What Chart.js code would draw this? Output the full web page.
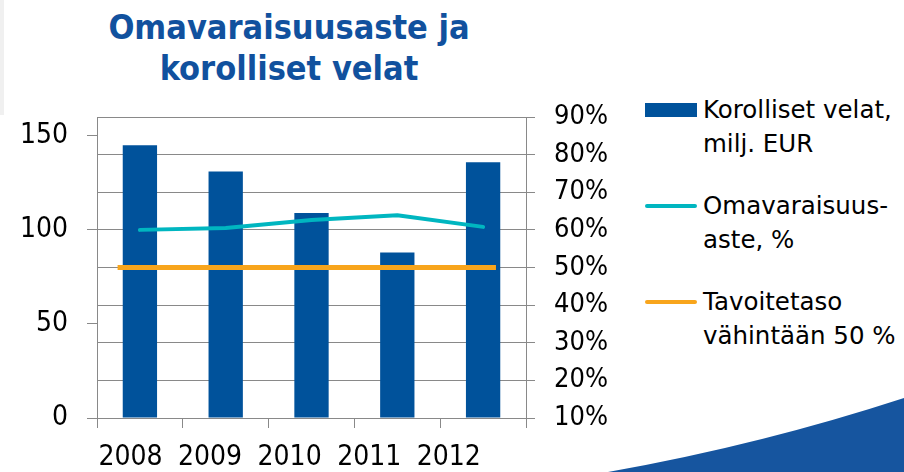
<!DOCTYPE html>
<html lang="fi">
<head>
<meta charset="utf-8">
<title>Omavaraisuusaste ja korolliset velat</title>
<script src="https://cdn.jsdelivr.net/npm/chart.js@4.4.1/dist/chart.umd.min.js"></script>
<style>
  html, body { margin: 0; padding: 0; background: #fff; }
  body { width: 904px; height: 472px; position: relative; overflow: hidden;
         font-family: 'DejaVu Sans Condensed', 'DejaVu Sans', sans-serif; }
  #sideStrip { position: absolute; left: 0; top: 0; width: 4px; height: 115px; background: #f0f0f0; }
  #chartTitle { position: absolute; left: 0; top: 7px; width: 578px; text-align: center;
                font-weight: bold; font-size: 34px; line-height: 41px; color: #11519e; }
  #chartWrap { position: absolute; left: 0; top: 0; }
  .legend-item { position: absolute; left: 645px; }
  .legend-swatch { position: absolute; left: 0; width: 52px; }
  .legend-text { position: absolute; left: 58px; font-family: 'DejaVu Sans', sans-serif;
                 font-size: 24.5px; line-height: 34px; color: #000; white-space: nowrap; }
  #swoosh { position: absolute; left: 0; top: 0; }
</style>
</head>
<body>
<div id="sideStrip"></div>
<svg id="swoosh" width="904" height="472"><path d="M608,472 Q760,445 904,398 L904,472 Z" fill="#16559f"/></svg>
<div id="chartTitle">Omavaraisuusaste ja<br>korolliset velat</div>
<div id="chartWrap"><canvas id="debtChart" width="620" height="472"></canvas></div>
<div id="legendBox"></div>

<script>
/* ================= Data ================= */
const YEARS = ['2008', '2009', '2010', '2011', '2012'];
const DEBT = [145, 131, 109, 88, 136];                 // Korolliset velat, milj. EUR
const EQUITY_RATIO = [60.0, 60.5, 62.6, 63.9, 60.8];   // Omavaraisuusaste, %
const TARGET = [50, 50];                               // Tavoitetaso vähintään 50 %
const TARGET_X = [-0.26, 4.15];                        // target line span, in category units
const LEFT_TICKS = [0, 50, 100, 150];
const RIGHT_TICKS = [10, 20, 30, 40, 50, 60, 70, 80, 90];

const LEGEND_ITEMS = [
  { lines: ['Korolliset velat,', 'milj. EUR'], color: '#00529b', kind: 'box', y: 110 },
  { lines: ['Omavaraisuus-', 'aste, %'], color: '#00b6c0', kind: 'line', y: 206 },
  { lines: ['Tavoitetaso', 'vähintään 50 %'], color: '#f8a51c', kind: 'line', y: 302 }
];

const GRID_GRAY = '#898989';

document.addEventListener('DOMContentLoaded', () => {
  buildLegend();
  initChart();
});

/* ================= Legend (HTML) ================= */
function buildLegend() {
  const box = document.getElementById('legendBox');
  LEGEND_ITEMS.forEach(item => {
    const el = document.createElement('div');
    el.className = 'legend-item';
    el.style.top = item.y + 'px';
    const sw = document.createElement('div');
    sw.className = 'legend-swatch';
    sw.style.background = item.color;
    if (item.kind === 'box') {
      sw.style.height = '14px'; sw.style.top = '-7px';
    } else {
      sw.style.height = '4px'; sw.style.top = '-2px'; sw.style.borderRadius = '2px';
    }
    const txt = document.createElement('div');
    txt.className = 'legend-text';
    txt.style.top = '-17px';
    txt.innerHTML = item.lines.join('<br>');
    el.appendChild(sw);
    el.appendChild(txt);
    box.appendChild(el);
  });
}

/* ================= Chart ================= */
function initChart() {
  Chart.defaults.font.family = "'DejaVu Sans Condensed', 'DejaVu Sans', sans-serif";
  Chart.defaults.color = '#000';

  const ctx = document.getElementById('debtChart');
  new Chart(ctx, {
    type: 'bar',
    data: {
      labels: YEARS,
      datasets: [
        {
          label: 'Korolliset velat, milj. EUR',
          data: DEBT,
          backgroundColor: '#00529b',
          grouped: false,
          barPercentage: 0.8,
          categoryPercentage: 0.5,
          yAxisID: 'y',
          xAxisID: 'x',
          order: 3
        },
        {
          type: 'line',
          label: 'Tavoitetaso vähintään 50 %',
          data: TARGET_X.map((x, i) => ({ x: x, y: TARGET[i] })),
          borderColor: '#f8a51c',
          borderWidth: 5,
          borderCapStyle: 'butt',
          pointRadius: 0,
          xAxisID: 'xt',
          yAxisID: 'y1',
          order: 2
        },
        {
          type: 'line',
          label: 'Omavaraisuusaste, %',
          data: EQUITY_RATIO,
          borderColor: '#00b6c0',
          borderWidth: 4,
          borderCapStyle: 'round',
          borderJoinStyle: 'round',
          pointRadius: 0,
          tension: 0,
          xAxisID: 'x',
          yAxisID: 'y1',
          order: 1
        }
      ]
    },
    options: {
      responsive: false,
      animation: false,
      layout: { padding: { top: 117, left: 0, right: 0, bottom: 0 } },
      plugins: { legend: { display: false }, tooltip: { enabled: false } },
      scales: {
        x: {
          type: 'category',
          position: 'bottom',
          weight: 0,
          offset: true,
          grid: { offset: true, drawOnChartArea: false, drawTicks: true, tickLength: 10, color: GRID_GRAY, lineWidth: 1 },
          border: { display: true, color: GRID_GRAY, width: 1 },
          ticks: { display: false },
          afterFit: s => { s.height = 10; }
        },
        xl: {
          type: 'linear',
          position: 'bottom',
          weight: 1,
          offset: false,
          min: -0.42,
          max: 4.97,
          grid: { display: false, drawTicks: false },
          border: { display: false },
          ticks: { font: { size: 28 }, padding: 13, maxRotation: 0, callback: v => YEARS[v] ?? '' },
          afterBuildTicks: s => { s.ticks = YEARS.map((_, i) => ({ value: i })); },
          afterFit: s => { s.height = 44; }
        },
        xt: {
          type: 'linear',
          display: false,
          offset: false,
          min: -0.5,
          max: 4.5
        },
        y: {
          position: 'left',
          min: 0,
          max: 160,
          grid: { drawOnChartArea: false, drawTicks: true, tickLength: 10, color: GRID_GRAY },
          border: { display: true, color: GRID_GRAY, width: 1 },
          ticks: { font: { size: 28 }, padding: 19 },
          afterBuildTicks: s => { s.ticks = LEFT_TICKS.map(v => ({ value: v })); },
          afterFit: s => { s.width = 97; }
        },
        y1: {
          position: 'right',
          min: 10,
          max: 90,
          grid: { drawOnChartArea: true, drawTicks: true, tickLength: 9, color: GRID_GRAY, lineWidth: 1 },
          border: { display: true, color: GRID_GRAY, width: 1 },
          ticks: { font: { size: 27 }, padding: 19, callback: v => v + '%' },
          afterBuildTicks: s => { s.ticks = RIGHT_TICKS.map(v => ({ value: v })); },
          afterFit: s => { s.width = 94; }
        }
      }
    }
  });
}
</script>
</body>
</html>
